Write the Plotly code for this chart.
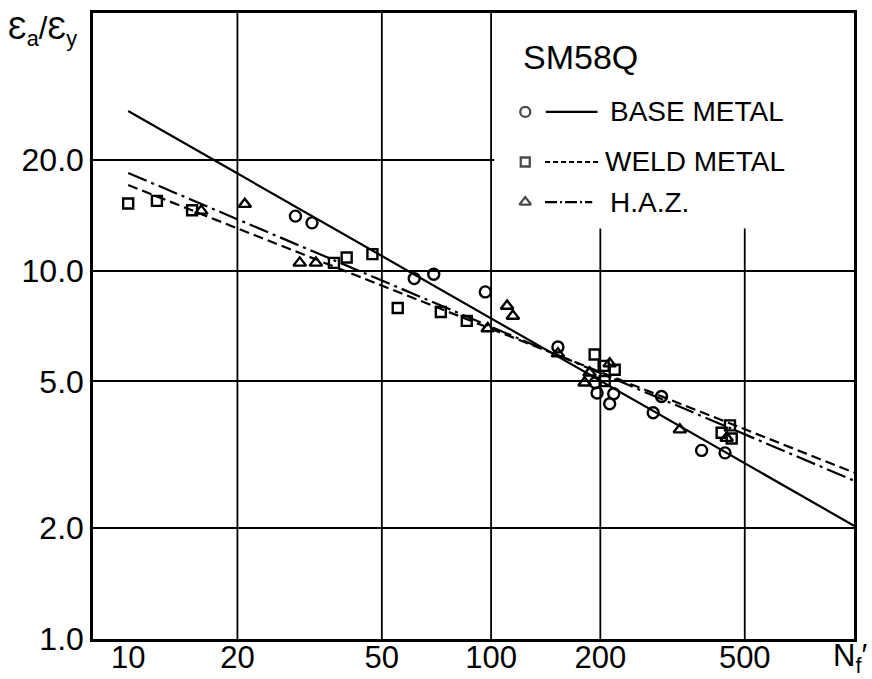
import plotly.graph_objects as go
import math

# ---------------- data ----------------
base_x = [28.9, 32.1, 61.4, 69.5, 96.4, 152.8, 193.8, 195.9, 217.7, 212.2, 294.9, 279.7, 380.3, 441.1]
base_y = [14.05, 13.47, 9.51, 9.77, 8.75, 6.20, 4.96, 4.65, 4.63, 4.35, 4.55, 4.11, 3.25, 3.20]

weld_x = [10.0, 12.0, 15.0, 36.9, 40.0, 47.1, 55.3, 72.7, 85.7, 192.9, 204.3, 219.1, 205.6, 455.2, 431.8, 460.3]
weld_y = [15.2, 15.46, 14.58, 10.49, 10.85, 11.08, 7.91, 7.72, 7.30, 5.92, 5.51, 5.38, 5.01, 3.80, 3.63, 3.50]

haz_x = [15.9, 20.96, 29.7, 32.9, 97.9, 110.7, 114.8, 152.8, 212.2, 186.8, 181.0, 331.2, 445.8]
haz_y = [14.52, 15.14, 10.49, 10.49, 6.96, 8.01, 7.53, 5.95, 5.59, 5.28, 4.96, 3.70, 3.51]

fit_x = [10, 1000]
base_fit = [27.1, 2.03]
weld_fit = [17.06, 2.83]
haz_fit = [18.4, 2.69]

x_ticks = [10, 20, 50, 100, 200, 500]
x_ticktext = ["10", "20", "50", "100", "200", "500"]
x_grid = [20, 50, 100, 200, 500]
y_ticks = [1, 2, 5, 10, 20]
y_ticktext = ["1.0", "2.0", "5.0", "10.0", "20.0"]

X_RANGE = [8, 1000]
Y_RANGE = [1, 50]

legend_labels = ["BASE METAL", "WELD METAL", "H.A.Z."]
legend_symbols = ["circle-open", "square-open", "triangle-up-open"]
legend_dashes = ["solid", "5px,3px", "12px,3px,2px,3px"]
title_text = "SM58Q"

FONT = "Liberation Sans, Arial, sans-serif"
BLACK = "black"

fig = go.Figure()

# fitted lines
fig.add_trace(go.Scatter(x=fit_x, y=base_fit, mode="lines",
                         line=dict(color=BLACK, width=2.2, dash="solid"), showlegend=False))
fig.add_trace(go.Scatter(x=fit_x, y=weld_fit, mode="lines",
                         line=dict(color=BLACK, width=2.2, dash="10px,5px"), showlegend=False))
fig.add_trace(go.Scatter(x=fit_x, y=haz_fit, mode="lines",
                         line=dict(color=BLACK, width=2.2, dash="20px,5px,3px,5px"), showlegend=False))

# data points
fig.add_trace(go.Scatter(x=base_x, y=base_y, mode="markers",
                         marker=dict(symbol="circle-open", size=11, color=BLACK, line=dict(width=2.4)),
                         showlegend=False))
fig.add_trace(go.Scatter(x=weld_x, y=weld_y, mode="markers",
                         marker=dict(symbol="square-open", size=10, color=BLACK, line=dict(width=2.4)),
                         showlegend=False))
fig.add_trace(go.Scatter(x=haz_x, y=haz_y, mode="markers",
                         marker=dict(symbol="triangle-up-open", size=11, color=BLACK, line=dict(width=2.4)),
                         showlegend=False))

shapes = []
# vertical grid lines (none at 10)
for gx in x_grid:
    shapes.append(dict(type="line", xref="x", yref="paper", x0=gx, x1=gx, y0=0, y1=1,
                       line=dict(color=BLACK, width=1.8), layer="between"))
# white legend panel covering the grid in the upper right
shapes.append(dict(type="rect", xref="x", yref="y", x0=102, x1=X_RANGE[1], y0=13.0, y1=Y_RANGE[1],
                   fillcolor="white", line=dict(width=0), layer="between"))

# custom legend (paper coordinates)
leg_y = [0.842, 0.762, 0.698]
leg_line_x = [(0.595, 0.663), (0.594, 0.666), (0.594, 0.656)]
leg_text_x = [0.677, 0.670, 0.677]
for i in range(3):
    shapes.append(dict(type="line", xref="paper", yref="paper",
                       x0=leg_line_x[i][0], x1=leg_line_x[i][1], y0=leg_y[i], y1=leg_y[i],
                       line=dict(color=BLACK, width=2.2, dash=legend_dashes[i]), layer="above"))

fig.add_trace(go.Scatter(x=[0.568] * 3, y=leg_y, mode="markers", xaxis="x2", yaxis="y2",
                         marker=dict(symbol=legend_symbols, size=[10, 9, 10], color=BLACK,
                                     line=dict(width=2.3)),
                         showlegend=False, hoverinfo="skip"))

annotations = []
for i in range(3):
    annotations.append(dict(text=legend_labels[i], xref="paper", yref="paper",
                            x=leg_text_x[i], y=leg_y[i], xanchor="left", yanchor="middle",
                            showarrow=False, font=dict(family=FONT, size=28, color=BLACK)))
annotations.append(dict(text=title_text, xref="paper", yref="paper", x=0.562, y=0.930,
                        xanchor="left", yanchor="middle", showarrow=False,
                        font=dict(family=FONT, size=34, color=BLACK)))
annotations.append(dict(text="Ɛ<sub>a</sub>/Ɛ<sub>y</sub>", xref="paper", yref="paper",
                        x=-0.114, y=0.972, xanchor="left", yanchor="middle", showarrow=False,
                        font=dict(family=FONT, size=31, color=BLACK)))
annotations.append(dict(text="N<sub>f</sub>′", xref="paper", yref="paper",
                        x=0.995, y=-0.030, xanchor="center", yanchor="middle", showarrow=False,
                        font=dict(family=FONT, size=31, color=BLACK)))

fig.update_layout(
    width=872, height=679,
    margin=dict(l=93, r=18, t=13, b=40, autoexpand=False),
    paper_bgcolor="white", plot_bgcolor="white",
    font=dict(family=FONT, size=32, color=BLACK),
    showlegend=False,
    shapes=shapes,
    annotations=annotations,
    xaxis=dict(type="log", range=[math.log10(X_RANGE[0]), math.log10(X_RANGE[1])],
               tickvals=x_ticks, ticktext=x_ticktext, showgrid=False,
               showline=True, mirror=True, linecolor=BLACK, linewidth=2.5,
               ticks="", zeroline=False, tickfont=dict(size=31), ticklabelstandoff=-11,
               automargin=False),
    yaxis=dict(type="log", range=[math.log10(Y_RANGE[0]), math.log10(Y_RANGE[1])],
               tickvals=y_ticks, ticktext=y_ticktext, showgrid=True,
               gridcolor=BLACK, gridwidth=1.8,
               showline=True, mirror=True, linecolor=BLACK, linewidth=2.5,
               ticks="", zeroline=False, tickfont=dict(size=32), automargin=False),
    xaxis2=dict(overlaying="x", range=[0, 1], visible=False, fixedrange=True),
    yaxis2=dict(overlaying="y", range=[0, 1], visible=False, fixedrange=True),
)

fig.write_html("out.html")
